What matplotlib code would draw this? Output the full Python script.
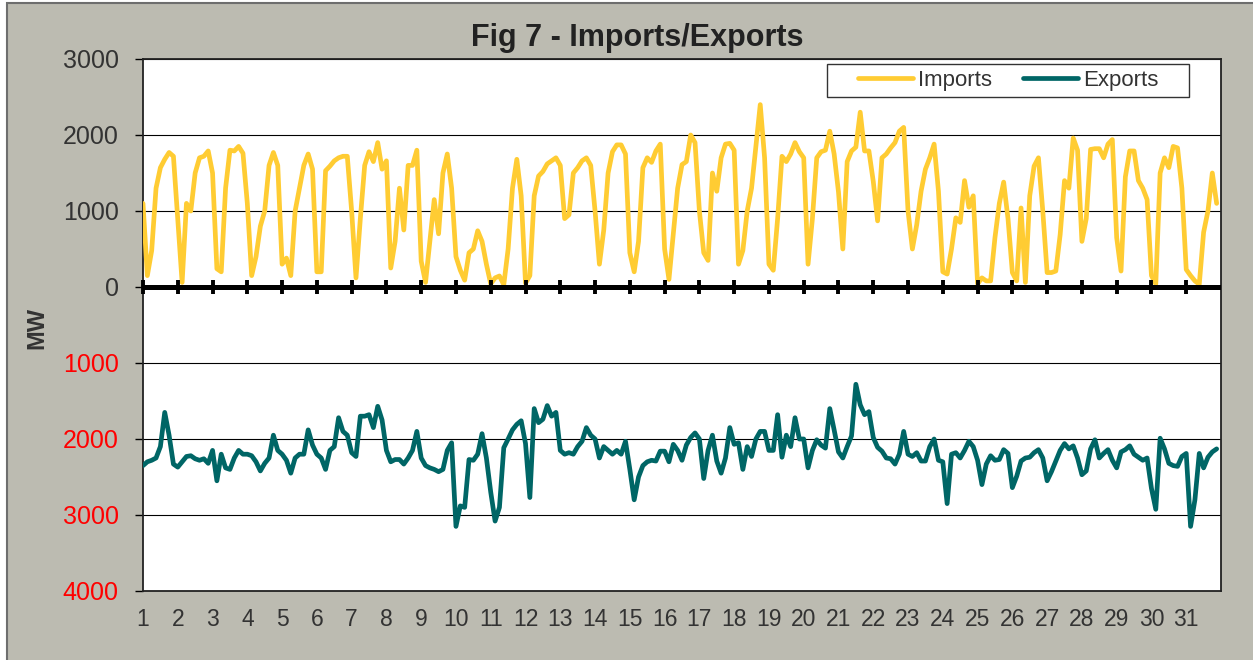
import numpy as np
import matplotlib.pyplot as plt
from matplotlib.patches import Rectangle
from matplotlib.ticker import FuncFormatter

# one value every 3 hours, 8 per day, days 1..31
days = list(range(1, 32))
step_hours = 3

imports = [
    1100, 150, 480, 1300, 1570, 1680, 1770, 1720,   # 1
    900, 60, 1100, 1000, 1500, 1700, 1720, 1790,    # 2
    1500, 240, 200, 1300, 1800, 1790, 1850, 1760,   # 3
    1100, 150, 400, 800, 1000, 1600, 1770, 1600,    # 4
    300, 380, 150, 1000, 1300, 1600, 1750, 1550,    # 5
    200, 200, 1530, 1590, 1660, 1700, 1720, 1720,   # 6
    1000, 120, 900, 1600, 1780, 1650, 1900, 1550,   # 7
    1660, 250, 600, 1300, 750, 1600, 1600, 1800,    # 8
    340, 60, 600, 1150, 700, 1500, 1750, 1300,      # 9
    400, 220, 90, 450, 500, 740, 600, 300,          # 10
    40, 120, 145, 30, 500, 1300, 1680, 1200,        # 11
    50, 150, 1200, 1460, 1520, 1620, 1660, 1700,    # 12
    1600, 900, 950, 1500, 1570, 1660, 1700, 1600,   # 13
    1000, 300, 750, 1500, 1780, 1870, 1870, 1750,   # 14
    450, 200, 600, 1570, 1700, 1640, 1790, 1880,    # 15
    500, 100, 700, 1300, 1610, 1650, 2000, 1900,    # 16
    1000, 450, 350, 1500, 1260, 1700, 1880, 1890,   # 17
    1800, 300, 480, 1000, 1300, 1850, 2400, 1700,   # 18
    300, 220, 900, 1720, 1650, 1750, 1900, 1780,    # 19
    1700, 300, 900, 1700, 1780, 1800, 2050, 1750,   # 20
    1250, 500, 1650, 1790, 1840, 2300, 1790, 1790,  # 21
    1390, 870, 1700, 1750, 1830, 1900, 2050, 2100,  # 22
    1000, 500, 820, 1260, 1550, 1700, 1880, 1260,   # 23
    200, 170, 500, 910, 850, 1400, 1050, 1200,      # 24
    40, 120, 80, 80, 650, 1100, 1380, 900,          # 25
    190, 80, 1040, 60, 1200, 1590, 1700, 1000,      # 26
    190, 190, 210, 690, 1400, 1300, 1960, 1800,     # 27
    600, 900, 1810, 1820, 1820, 1700, 1880, 1940,   # 28
    650, 210, 1450, 1790, 1790, 1400, 1300, 1150,   # 29
    150, 40, 1500, 1700, 1570, 1850, 1830, 1300,    # 30
    230, 150, 80, 35, 720, 1000, 1500, 1100,        # 31
]

# exports in MW (plotted below zero)
exports = [
    2350, 2300, 2280, 2250, 2100, 1650, 1950, 2330,  # 1
    2370, 2300, 2230, 2220, 2260, 2280, 2260, 2320,  # 2
    2150, 2550, 2200, 2380, 2400, 2250, 2150, 2200,  # 3
    2200, 2220, 2300, 2420, 2320, 2250, 1950, 2150,  # 4
    2200, 2280, 2450, 2250, 2200, 2200, 1880, 2080,  # 5
    2200, 2250, 2400, 2150, 2100, 1720, 1900, 1950,  # 6
    2180, 2230, 1700, 1700, 1680, 1850, 1570, 1750,  # 7
    2150, 2300, 2270, 2270, 2330, 2250, 2150, 1900,  # 8
    2250, 2350, 2380, 2400, 2430, 2400, 2150, 2050,  # 9
    3150, 2880, 2900, 2270, 2280, 2200, 1930, 2250,  # 10
    2700, 3080, 2900, 2115, 2000, 1880, 1807, 1760,  # 11
    2060, 2770, 1600, 1785, 1740, 1560, 1700, 1650,  # 12
    2150, 2200, 2180, 2200, 2100, 2030, 1850, 1950,  # 13
    2000, 2250, 2100, 2150, 2200, 2150, 2200, 2030,  # 14
    2400, 2800, 2500, 2350, 2300, 2280, 2290, 2160,  # 15
    2160, 2300, 2070, 2150, 2280, 2080, 1980, 1920,  # 16
    2000, 2520, 2150, 1950, 2290, 2450, 2250, 1850,  # 17
    2070, 2050, 2400, 2100, 2230, 2000, 1900, 1900,  # 18
    2150, 2150, 1680, 2240, 1950, 2100, 1720, 2000,  # 19
    2000, 2380, 2150, 2010, 2080, 2120, 1600, 1880,  # 20
    2170, 2250, 2100, 1960, 1280, 1550, 1680, 1640,  # 21
    1980, 2110, 2160, 2250, 2260, 2330, 2200, 1900,  # 22
    2200, 2230, 2180, 2290, 2290, 2100, 2000, 2280,  # 23
    2300, 2850, 2200, 2180, 2250, 2150, 2030, 2100,  # 24
    2280, 2600, 2330, 2220, 2280, 2270, 2140, 2190,  # 25
    2640, 2490, 2290, 2250, 2240, 2180, 2140, 2250,  # 26
    2550, 2430, 2290, 2150, 2060, 2130, 2090, 2250,  # 27
    2470, 2420, 2130, 2010, 2250, 2190, 2140, 2280,  # 28
    2380, 2170, 2140, 2090, 2200, 2240, 2280, 2250,  # 29
    2650, 2925, 1990, 2130, 2320, 2350, 2360, 2230,  # 30
    2190, 3150, 2800, 2190, 2380, 2240, 2170, 2130,  # 31
]

yticks = list(range(-4000, 3001, 1000))

t = 1 + np.arange(len(imports)) * step_hours / 24

plt.rcParams['font.family'] = ['Liberation Sans', 'DejaVu Sans']

W, H = 1253, 660
fig = plt.figure(figsize=(W / 100, H / 100), dpi=100)
fig.patch.set_facecolor('white')
# gray chart area with its dark border on top/left
fig.patches.append(Rectangle((6.5 / W, -0.05), 1.1, 1 - 2.5 / H + 0.05,
                             transform=fig.transFigure, facecolor='#bcbbb1',
                             edgecolor='#6e6e6e', lw=1.5, zorder=-10))

ax = fig.add_axes([143 / W, 1 - 591 / H, (1221 - 143) / W, (591 - 59) / H])
ax.set_zorder(1)
ax.set_facecolor('white')

ax.plot(t, imports, color='#ffcc33', lw=3.4, label='Imports',
        solid_joinstyle='round', solid_capstyle='round', zorder=3)
ax.plot(t, -np.array(exports), color='#006666', lw=3.4, label='Exports',
        solid_joinstyle='round', solid_capstyle='round', zorder=3)

# category axis at zero, with cross tick marks
ax.axhline(0, color='black', lw=3.6, zorder=4)
ax.plot(days, np.zeros(len(days)), ls='none', marker='|', ms=10, mew=2.8,
        color='black', zorder=5, clip_on=False)

ax.set_xlim(1, 32)
ax.set_ylim(-4000, 3000)
ax.set_yticks(yticks)
ax.yaxis.set_major_formatter(FuncFormatter(lambda v, p: f'{abs(int(v))}'))
ax.set_xticks(days)
ax.grid(axis='y', color='black', lw=0.8)
ax.set_axisbelow(True)

ax.tick_params(axis='y', length=6, width=1, color='black', labelsize=18,
               pad=11.5, labelcolor='#333333')
ax.tick_params(axis='x', length=0, labelsize=16.5, pad=12, labelcolor='#333333')
for lab, v in zip(ax.get_yticklabels(), yticks):
    if v < 0:
        lab.set_color('#ff0000')

for s in ax.spines.values():
    s.set_color('#222222')
    s.set_linewidth(1.3)

ax.set_ylabel('MW', fontsize=17, fontweight='bold', color='#333333')
ax.yaxis.set_label_coords(-0.088, 0.494)

fig.text(637 / W, 1 - 46 / H, 'Fig 7 - Imports/Exports', ha='center',
         va='baseline', fontsize=22, fontweight='bold', color='#222222')

# legend box
ax.add_patch(Rectangle((0.6345, 0.9286), 0.3358, 0.062, transform=ax.transAxes,
                       facecolor='white', edgecolor='#333333', lw=1, zorder=6))
leg = ax.legend(loc='center', bbox_to_anchor=(0.8024, 0.9596), ncol=2,
                frameon=False, fontsize=16, handlelength=2.5, handletextpad=0.2,
                columnspacing=1.4, borderpad=0.2)
leg.set_zorder(7)
for txt in leg.get_texts():
    txt.set_color('#333333')

fig.savefig('out.png', dpi=100, facecolor=fig.get_facecolor())
